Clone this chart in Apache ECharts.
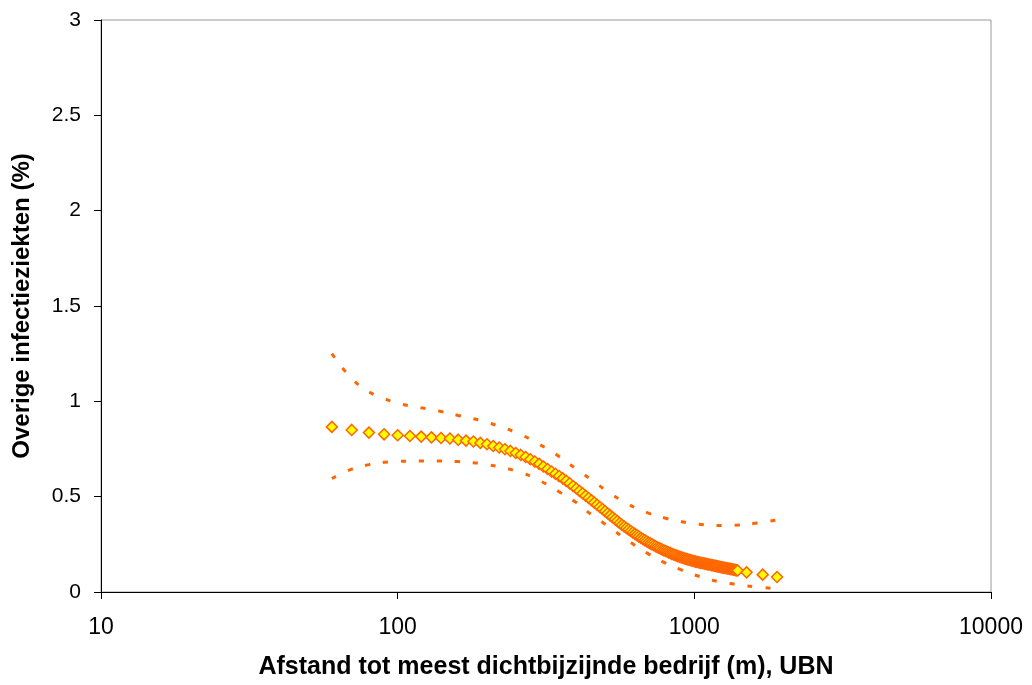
<!DOCTYPE html>
<html>
<head>
<meta charset="utf-8">
<script src="https://cdn.jsdelivr.net/npm/echarts@6/dist/echarts.min.js"></script>
<style>
html,body{margin:0;padding:0;background:#fff;}
#chart{width:1032px;height:685px;}
</style>
</head>
<body>
<div id="chart"></div>
<script>
const xTitle = 'Afstand tot meest dichtbijzijnde bedrijf (m), UBN';
const yTitle = 'Overige infectieziekten (%)';

const mainX = [60,70,80,90,100,110,120,130,140,150,160,170,180,190,200,210,220,230,240,250,
260,270,280,290,300,310,320,330,340,350,360,370,380,390,400,410,420,430,440,450,
460,470,480,490,500,510,520,530,540,550,560,570,580,590,600,610,620,630,640,650,
660,670,680,690,700,710,720,730,740,750,760,770,780,790,800,810,820,830,840,850,
860,870,880,890,900,910,920,930,940,950,960,970,980,990,1000,1010,1020,1030,1040,1050,
1060,1070,1080,1090,1100,1110,1120,1130,1140,1150,1160,1170,1180,1190,1200,1210,1220,1230,1240,1250,
1260,1270,1280,1290,1300,1310,1320,1330,1340,1350,1360,1370,1380,1390,1400,1500,1700,1900];

const mainY = [0.866,0.850,0.836,0.827,0.822,0.818,0.815,0.811,0.808,0.805,0.799,0.794,0.789,0.782,0.775,0.766,0.758,0.749,0.740,0.729,
0.719,0.708,0.696,0.684,0.672,0.658,0.645,0.632,0.620,0.608,0.596,0.583,0.570,0.556,0.543,0.530,0.518,0.505,0.493,0.481,
0.469,0.458,0.446,0.435,0.424,0.413,0.402,0.392,0.382,0.372,0.362,0.353,0.344,0.336,0.328,0.320,0.312,0.305,0.298,0.291,
0.284,0.278,0.272,0.266,0.260,0.255,0.250,0.245,0.240,0.235,0.231,0.227,0.222,0.218,0.215,0.211,0.207,0.204,0.200,0.197,
0.194,0.191,0.188,0.185,0.183,0.180,0.178,0.175,0.173,0.171,0.169,0.167,0.165,0.163,0.161,0.159,0.158,0.156,0.155,0.153,
0.152,0.151,0.149,0.148,0.147,0.145,0.144,0.143,0.141,0.140,0.139,0.138,0.137,0.136,0.134,0.133,0.132,0.130,0.129,0.128,
0.127,0.126,0.125,0.124,0.123,0.122,0.121,0.120,0.119,0.118,0.117,0.116,0.115,0.114,0.113,0.103,0.091,0.079];

const bandX  = [60,70,80,90,100,120,140,160,180,200,250,300,350,400,450,500,600,700,800,900,1000,1200,1400,1600,1900];
const upperY = [1.25,1.12,1.05,1.015,0.99,0.966,0.947,0.926,0.909,0.89,0.837,0.775,0.711,0.645,0.588,0.537,0.46,0.414,0.387,0.37,0.358,0.349,0.351,0.36,0.378];
const lowerY = [0.595,0.644,0.668,0.68,0.685,0.687,0.687,0.684,0.678,0.669,0.635,0.585,0.526,0.469,0.406,0.356,0.268,0.2,0.151,0.117,0.09,0.055,0.039,0.027,0.018];

const xTicks = [10,100,1000,10000];

const pair = (xs, ys) => xs.map((x,i)=>[x, ys[i]]);

const chart = echarts.init(document.getElementById('chart'), null, {renderer:'canvas', width:1032, height:685});
const font = '"Liberation Sans", Arial, sans-serif';
const orange = '#FF6600';
const bandStyle = {
  type:'line', smooth:true, showSymbol:false, symbol:'none', silent:true,
  lineStyle:{color:orange, width:3, type:[5,13]}, z:3
};
chart.setOption({
  animation:false,
  backgroundColor:'#fff',
  grid:{left:101, top:20, width:890, height:573, show:true, borderColor:'#999', borderWidth:1, backgroundColor:'transparent'},
  xAxis:{
    type:'log', logBase:10, min:xTicks[0], max:xTicks[xTicks.length-1],
    name:xTitle, nameLocation:'middle', nameGap:63,
    nameTextStyle:{fontFamily:font, fontSize:25, fontWeight:'bold', color:'#000'},
    axisLine:{show:true, onZero:false, lineStyle:{color:'#000', width:1}},
    axisTick:{show:true, length:7, lineStyle:{color:'#000'}},
    axisLabel:{fontFamily:font, fontSize:23, color:'#000', margin:24, formatter:v=>String(v)},
    splitLine:{show:false}, minorTick:{show:false}
  },
  yAxis:{
    type:'value', min:0, max:3, interval:0.5,
    name:yTitle, nameLocation:'middle', nameGap:67, nameRotate:90,
    nameTextStyle:{fontFamily:font, fontSize:24, fontWeight:'bold', color:'#000'},
    axisLine:{show:true, lineStyle:{color:'#000', width:1}},
    axisTick:{show:true, length:7, lineStyle:{color:'#000'}},
    axisLabel:{fontFamily:font, fontSize:21, color:'#000', margin:20},
    splitLine:{show:false}
  },
  series:[
    Object.assign({name:'upper', data:pair(bandX, upperY)}, bandStyle),
    Object.assign({name:'lower', data:pair(bandX, lowerY)}, bandStyle),
    {
      name:'Overige infectieziekten', type:'scatter', symbol:'diamond', symbolSize:11,
      data:pair(mainX, mainY),
      itemStyle:{color:'#FFFF00', borderColor:orange, borderWidth:1.5, opacity:1},
      z:4
    }
  ]
});
</script>
</body>
</html>
